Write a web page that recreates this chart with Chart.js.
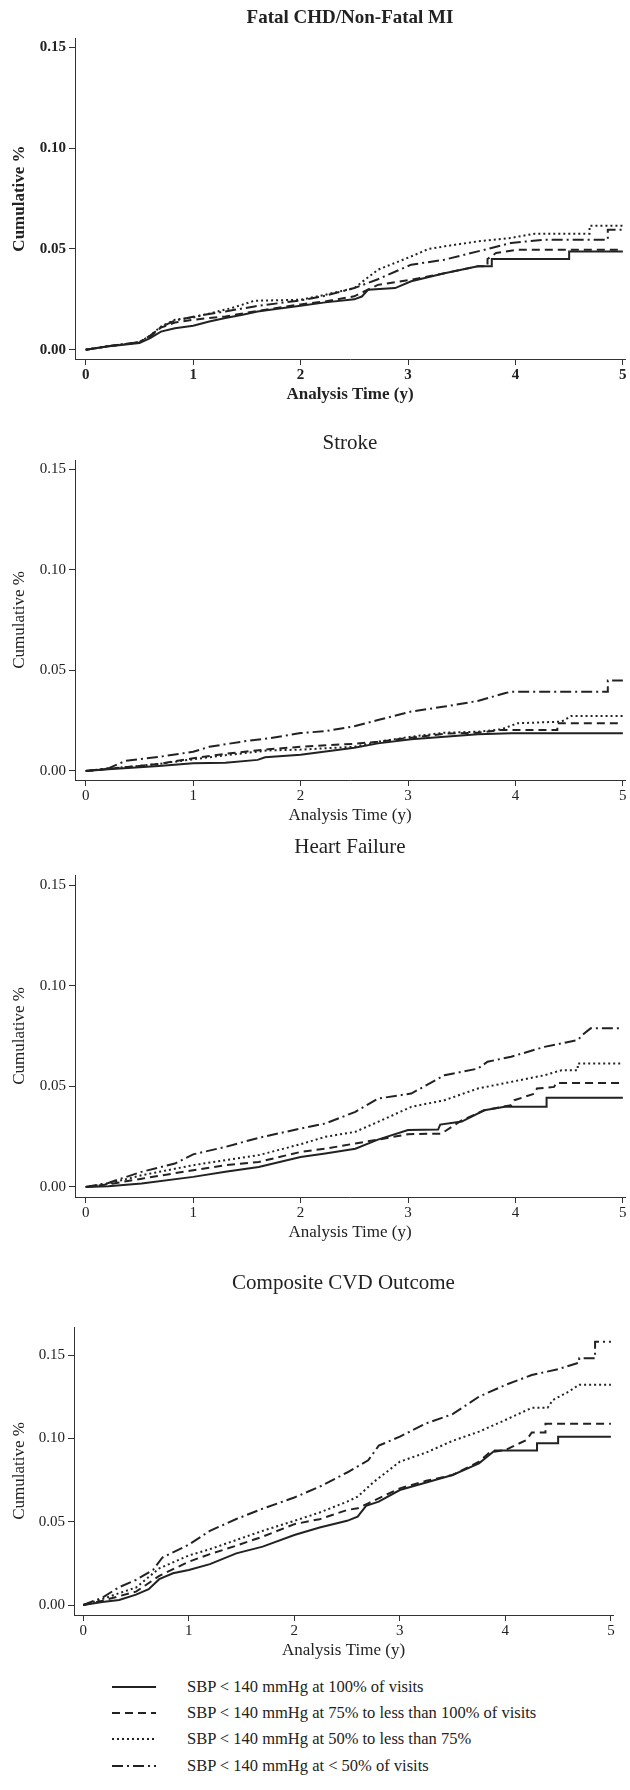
<!DOCTYPE html>
<html lang="en">
<head>
  <meta charset="UTF-8">
  <title>Cumulative incidence by SBP control</title>
  <script src="https://cdn.jsdelivr.net/npm/chart.js"></script>
  <style>
    body {
      margin: 0;
      background: #fff;
      width: 630px;
      height: 1790px;
      position: relative;
      overflow: hidden;
      font-family: "Liberation Serif", "Times New Roman", serif;
      color: #222;
    }
    canvas { position: absolute; left: 0; }
    .legend {
      position: absolute;
      left: 112px;
      font-size: 16.5px;
      line-height: 20px;
      display: flex;
      align-items: center;
      white-space: nowrap;
    }
    .legend svg { margin-right: 31px; }
  </style>
</head>
<body>
  <canvas id="chd"></canvas>
  <canvas id="stroke"></canvas>
  <canvas id="hf"></canvas>
  <canvas id="cvd"></canvas>
  <div id="legend"></div>

  <script>
    // panel titles and series names
    const panelTitles = ["Fatal CHD/Non-Fatal MI", "Stroke", "Heart Failure", "Composite CVD Outcome"];
    const seriesLabels = [
      "SBP < 140 mmHg at 100% of visits",
      "SBP < 140 mmHg at 75% to less than 100% of visits",
      "SBP < 140 mmHg at 50% to less than 75%",
      "SBP < 140 mmHg at < 50% of visits"
    ];
    const xTicks = [0, 1, 2, 3, 4, 5];
    const yTicks = [0, 0.05, 0.10, 0.15];

    // [years, cumulative]
    const chd100 = [[0,0],[0.2,0.0016],[0.5,0.0033],[0.6,0.0058],[0.7,0.009],[0.83,0.0107],[1.0,0.0119],[1.15,0.014],[1.3,0.0157],[1.46,0.0174],[1.6,0.019],[1.77,0.0202],[2.0,0.0218],[2.23,0.0235],[2.5,0.025],[2.57,0.0264],[2.63,0.0298],[2.88,0.0306],[3.03,0.034],[3.34,0.038],[3.65,0.0414],[3.78,0.0414],[3.78,0.045],[4.5,0.045],[4.5,0.0488],[5.0,0.0488]];
    const chd75 = [[0,0],[0.2,0.0017],[0.5,0.0036],[0.6,0.0065],[0.7,0.011],[0.83,0.0135],[1.0,0.0149],[1.3,0.0165],[1.57,0.019],[2.0,0.0225],[2.23,0.024],[2.5,0.0265],[2.72,0.0322],[3.03,0.0347],[3.34,0.038],[3.65,0.0414],[3.74,0.0414],[3.74,0.045],[3.82,0.048],[4.02,0.0496],[5.0,0.0496]];
    const chd50 = [[0,0],[0.2,0.0017],[0.5,0.0038],[0.6,0.007],[0.7,0.0115],[0.83,0.0149],[1.0,0.016],[1.36,0.0207],[1.57,0.0243],[2.0,0.0248],[2.23,0.0273],[2.5,0.0306],[2.72,0.0397],[3.03,0.0463],[3.19,0.05],[3.34,0.0513],[3.65,0.0538],[3.96,0.0555],[4.18,0.0576],[4.69,0.0576],[4.69,0.0615],[5.0,0.0615]];
    const chdLow = [[0,0],[0.2,0.0017],[0.5,0.0038],[0.6,0.007],[0.7,0.0112],[0.83,0.0145],[1.0,0.0164],[1.3,0.019],[1.57,0.0215],[2.0,0.0245],[2.23,0.0268],[2.5,0.0306],[2.72,0.035],[3.03,0.0422],[3.34,0.0447],[3.65,0.0488],[3.96,0.053],[4.27,0.0546],[4.86,0.0546],[4.86,0.0596],[5.0,0.0596]];

    const stroke100 = [[0,0],[0.21,0.0008],[0.68,0.0025],[1.0,0.0038],[1.3,0.0041],[1.6,0.0055],[1.67,0.0068],[2.0,0.008],[2.5,0.0115],[2.72,0.0137],[3.03,0.0157],[3.34,0.017],[3.65,0.0182],[3.96,0.0187],[5.0,0.0187]];
    const stroke75 = [[0,0],[0.21,0.001],[0.5,0.0025],[0.68,0.0035],[1.0,0.0063],[1.3,0.0085],[1.7,0.0108],[2.0,0.012],[2.5,0.0135],[2.72,0.0145],[3.03,0.0165],[3.34,0.0185],[3.65,0.019],[3.87,0.0204],[4.39,0.0204],[4.39,0.0237],[5.0,0.0237]];
    const stroke50 = [[0,0],[0.21,0.0012],[0.5,0.0025],[0.68,0.0035],[1.0,0.0058],[1.3,0.0078],[1.7,0.0102],[2.0,0.0106],[2.5,0.012],[2.72,0.0145],[3.03,0.017],[3.34,0.019],[3.65,0.0195],[3.87,0.0207],[4.02,0.0237],[4.43,0.0245],[4.52,0.0273],[5.0,0.0273]];
    const strokeLow = [[0,0],[0.21,0.0013],[0.37,0.005],[0.68,0.007],[1.0,0.0095],[1.15,0.012],[1.46,0.0146],[1.7,0.0162],[2.0,0.0188],[2.23,0.0198],[2.5,0.0222],[2.72,0.0253],[3.03,0.0295],[3.34,0.032],[3.65,0.0348],[3.9,0.0386],[3.96,0.0394],[4.86,0.0394],[4.86,0.0449],[5.0,0.0449]];

    const hf100 = [[0,0],[0.21,0.0003],[0.52,0.0017],[1.0,0.005],[1.3,0.0075],[1.61,0.0099],[2.0,0.0149],[2.23,0.0166],[2.51,0.019],[2.72,0.0235],[3.0,0.0283],[3.28,0.0285],[3.3,0.031],[3.5,0.0325],[3.71,0.0381],[3.9,0.0398],[4.29,0.0398],[4.29,0.0443],[5.0,0.0443]];
    const hf75 = [[0,0],[0.21,0.0013],[0.52,0.0041],[1.0,0.0083],[1.3,0.0108],[1.61,0.0124],[2.0,0.0174],[2.23,0.019],[2.51,0.0216],[2.72,0.0235],[3.0,0.0262],[3.31,0.0265],[3.5,0.0331],[3.71,0.0381],[3.96,0.0406],[3.99,0.0431],[4.18,0.0464],[4.2,0.0489],[4.36,0.0497],[4.38,0.0517],[5.0,0.0517]];
    const hf50 = [[0,0],[0.21,0.0017],[0.52,0.0058],[1.0,0.0108],[1.3,0.0133],[1.61,0.0158],[2.0,0.0212],[2.23,0.0249],[2.51,0.0274],[2.72,0.0323],[3.03,0.0398],[3.34,0.0431],[3.65,0.0489],[3.96,0.0522],[4.27,0.0555],[4.43,0.058],[4.58,0.058],[4.58,0.0613],[5.0,0.0613]];
    const hfLow = [[0,0],[0.21,0.002],[0.52,0.0075],[0.83,0.0116],[1.0,0.0162],[1.3,0.0199],[1.61,0.0244],[2.0,0.029],[2.23,0.0315],[2.51,0.0373],[2.72,0.0439],[3.03,0.0464],[3.34,0.0555],[3.65,0.0588],[3.74,0.0622],[3.96,0.0647],[4.27,0.0696],[4.58,0.073],[4.64,0.0763],[4.7,0.0788],[5.0,0.0788]];

    const cvd100 = [[0,0],[0.18,0.0018],[0.34,0.003],[0.5,0.0062],[0.62,0.0095],[0.72,0.0155],[0.85,0.019],[1.0,0.021],[1.2,0.0245],[1.45,0.031],[1.7,0.035],[2.0,0.042],[2.24,0.0465],[2.5,0.0505],[2.6,0.053],[2.68,0.0595],[2.8,0.062],[3.0,0.069],[3.25,0.0735],[3.5,0.078],[3.75,0.085],[3.9,0.0927],[4.3,0.0927],[4.3,0.097],[4.5,0.097],[4.5,0.101],[5.0,0.101]];
    const cvd75 = [[0,0],[0.18,0.0025],[0.34,0.0053],[0.5,0.008],[0.72,0.0175],[1.0,0.026],[1.2,0.0305],[1.45,0.0356],[1.7,0.041],[2.0,0.0485],[2.24,0.0515],[2.5,0.057],[2.6,0.058],[2.7,0.061],[3.0,0.070],[3.25,0.0745],[3.5,0.078],[3.75,0.086],[3.85,0.0915],[4.0,0.093],[4.2,0.099],[4.25,0.1035],[4.38,0.1035],[4.38,0.1087],[5.0,0.1087]];
    const cvd50 = [[0,0],[0.18,0.0036],[0.34,0.0071],[0.5,0.0105],[0.72,0.022],[1.0,0.0297],[1.2,0.0335],[1.45,0.039],[1.7,0.0445],[2.0,0.0505],[2.24,0.0555],[2.5,0.062],[2.6,0.065],[2.75,0.0737],[3.0,0.086],[3.25,0.0915],[3.5,0.0985],[3.75,0.104],[4.0,0.111],[4.25,0.1183],[4.4,0.1183],[4.45,0.123],[4.6,0.128],[4.7,0.1322],[5.0,0.1322]];
    const cvdLow = [[0,0],[0.18,0.0044],[0.34,0.0107],[0.5,0.0151],[0.66,0.021],[0.75,0.0285],[1.0,0.0362],[1.2,0.0445],[1.45,0.0516],[1.7,0.0578],[2.0,0.0645],[2.24,0.071],[2.5,0.0795],[2.7,0.0868],[2.8,0.0956],[3.0,0.101],[3.25,0.109],[3.5,0.1145],[3.75,0.125],[4.0,0.132],[4.25,0.138],[4.5,0.1415],[4.7,0.1455],[4.7,0.148],[4.85,0.148],[4.85,0.158],[5.0,0.158]];

    const panelData = [
      [chd100, chd75, chd50, chdLow],
      [stroke100, stroke75, stroke50, strokeLow],
      [hf100, hf75, hf50, hfLow],
      [cvd100, cvd75, cvd50, cvdLow]
    ];

    // line styles: solid, dashed, dotted, dash-dot
    const dashes = [[], [8, 5], [2, 3], [11, 4, 2, 4]];
    const ink = "#222";

    // page layout of each panel (pixels)
    const panels = [
      { id: "chd",    titleY: 18,   titleSize: 19, top: 38,   bottom: 359,  left: 75, right: 625, xMin: -0.1,   yMin: -0.0046, yMax: 0.1547, bold: true },
      { id: "stroke", titleY: 444,  titleSize: 21, top: 460,  bottom: 780,  left: 75, right: 625, xMin: -0.1,   yMin: -0.0045, yMax: 0.1545, bold: false },
      { id: "hf",     titleY: 848,  titleSize: 21, top: 875,  bottom: 1197, left: 75, right: 625, xMin: -0.1,   yMin: -0.005,  yMax: 0.155,  bold: false },
      { id: "cvd",    titleY: 1284, titleSize: 21, top: 1327, bottom: 1615, left: 74, right: 613, xMin: -0.088, yMin: -0.006,  yMax: 0.1668, bold: false }
    ];

    const xScaleHeight = 50;

    panels.forEach((p, i) => {
      const canvas = document.getElementById(p.id);
      const cTop = Math.round(p.titleY - p.titleSize * 0.6 - 4);
      const cHeight = p.bottom - cTop + xScaleHeight;
      canvas.width = 630;
      canvas.height = cHeight;
      canvas.style.top = cTop + "px";
      canvas.style.width = "630px";
      canvas.style.height = cHeight + "px";

      const weight = p.bold ? "bold" : "normal";
      const family = "'Liberation Serif', 'Times New Roman', serif";

      const datasets = panelData[i].map((pts, k) => ({
        label: seriesLabels[k],
        data: pts.map(d => ({ x: d[0], y: d[1] })),
        borderColor: ink,
        borderWidth: 2,
        borderDash: dashes[k],
        borderCapStyle: "butt",
        pointRadius: 0,
        tension: 0,
        fill: false
      }));

      new Chart(canvas, {
        type: "line",
        data: { datasets: datasets },
        options: {
          responsive: false,
          animation: false,
          layout: { padding: { left: 0, right: 630 - p.right, top: 0, bottom: 0 } },
          plugins: {
            legend: { display: false },
            tooltip: { enabled: false },
            title: {
              display: true,
              fullSize: false,
              text: panelTitles[i],
              color: ink,
              font: { family: family, size: p.titleSize, weight: weight },
              padding: { top: 4, bottom: p.top - cTop - 4 - p.titleSize * 1.2 }
            }
          },
          scales: {
            x: {
              type: "linear",
              min: p.xMin,
              max: 5.02,
              afterBuildTicks: s => { s.ticks = xTicks.map(v => ({ value: v })); },
              afterFit: s => { s.height = xScaleHeight; },
              ticks: {
                color: ink,
                padding: 1,
                maxRotation: 0,
                font: { family: family, size: 15, weight: weight },
                callback: v => String(v)
              },
              grid: { drawOnChartArea: false, drawTicks: true, tickLength: 6, color: "#333" },
              border: { display: true, color: "#333", width: 1 },
              title: {
                display: true,
                text: "Analysis Time (y)",
                color: ink,
                font: { family: family, size: 17, weight: weight },
                padding: { top: 0, bottom: 4 }
              }
            },
            y: {
              min: p.yMin,
              max: p.yMax,
              afterBuildTicks: s => { s.ticks = yTicks.map(v => ({ value: v })); },
              afterFit: s => { s.width = p.left; },
              ticks: {
                color: ink,
                padding: 3,
                font: { family: family, size: 15, weight: weight },
                callback: v => v.toFixed(2)
              },
              grid: { drawOnChartArea: false, drawTicks: true, tickLength: 6, color: "#333" },
              border: { display: true, color: "#333", width: 1 },
              title: {
                display: true,
                text: "Cumulative %",
                color: ink,
                font: { family: family, size: 17, weight: weight },
                padding: { top: 9, bottom: 0 }
              }
            }
          }
        }
      });
    });

    // legend below the last panel
    const legendRows = [1687, 1713, 1739, 1766];
    const legendBox = document.getElementById("legend");
    seriesLabels.forEach((label, k) => {
      const row = document.createElement("div");
      row.className = "legend";
      row.style.top = (legendRows[k] - 10) + "px";
      const dash = dashes[k].length ? ` stroke-dasharray="${dashes[k].join(" ")}"` : "";
      row.innerHTML = `<svg width="44" height="6"><line x1="0" y1="3" x2="44" y2="3" stroke="${ink}" stroke-width="2"${dash}/></svg><span></span>`;
      row.querySelector("span").textContent = label;
      legendBox.appendChild(row);
    });
  </script>
</body>
</html>
